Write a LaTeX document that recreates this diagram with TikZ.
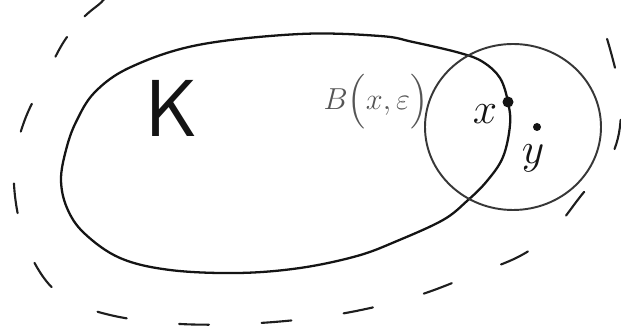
\documentclass[tikz,border=0pt]{standalone}
\usepackage{amsmath}
\definecolor{cSet}  {RGB}{20,20,20}
\definecolor{cBall} {RGB}{55,55,55}
\definecolor{cHull} {RGB}{30,30,30}
\definecolor{cLabel}{RGB}{85,85,85}
\def\Wd{621}
\def\Ht{333}
\tikzset{
  setline/.style={cSet,line width=1.3pt,line join=round},
  ballline/.style={cBall,line width=1.1pt},
  hullline/.style={cHull,line width=1.2pt,line cap=round,dash pattern=on 17pt off 30pt,dash phase=4pt},
  ptdot/.style={circle,fill=cSet,inner sep=0pt,minimum size=#1},
}

\begin{document}
\begin{tikzpicture}[x=0.2mm,y=-0.2mm]

% cadre
\useasboundingbox (0,0) rectangle (\Wd,\Ht);
\clip (0,0) rectangle (\Wd,\Ht);
\fill[white] (0,0) rectangle (\Wd,\Ht);

% =================== ENVELOPPE (tirets) ===================
\draw[hullline] plot[smooth cycle,tension=0.6] coordinates {
  (97,6) (67,37) (44,80) (24,122) (14,165) (18,215) (34,262)
  (62,296) (110,315) (180,324) (260,323) (340,314) (413,297)
  (470,276) (520,256) (552,232) (580,197) (612,155) (621,110)
  (613,60) (594,8) (560,-25) (350,-45) (150,-25)};

% =================== ENSEMBLE K ===================
\draw[setline] plot[smooth cycle,tension=0.6] coordinates {
  (61,180) (66,150) (76,122) (95,92) (131,67) (198,45) (300,34)
  (380,36) (413,42) (460,53) (483,62) (500,78) (508,102) (510,125)
  (503,157) (487,181) (467,201) (443,220) (397,241) (357,256)
  (300,268) (238,273) (170,270) (120,258) (84,233) (67,208)};

% =================== BOULE B(x,eps) ===================
\draw[ballline] (513,127) ellipse [x radius=88,y radius=83];

% points
\node[ptdot=2.2mm] (ptx) at (508,102) {};
\node[ptdot=1.6mm] (pty) at (537,127) {};

% =================== ETIQUETTES ===================
\node[font=\fontsize{46}{46}\selectfont\sffamily,text=cSet] (lblK) at (172,108) {K};
\node[font=\fontsize{18}{18}\selectfont,text=cLabel] (lblBall) at (376,102)
  {$B\Big(x{,}\,\varepsilon\Big)$};
\node[font=\fontsize{24}{24}\selectfont,text=cSet] (lblx) at (485,114) {$x$};
\node[font=\fontsize{24}{24}\selectfont,text=cSet] (lbly) at (533,158) {$y$};

\end{tikzpicture}
\end{document}
